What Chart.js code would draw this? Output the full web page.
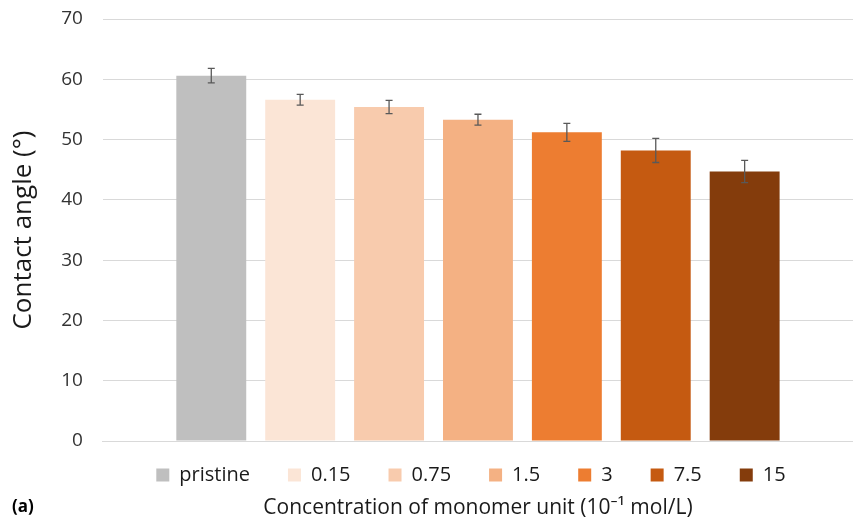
<!DOCTYPE html>
<html>
<head>
<meta charset="utf-8">
<script src="https://cdn.jsdelivr.net/npm/chart.js@4/dist/chart.umd.min.js"></script>
<style>
  html, body { margin: 0; padding: 0; background: #ffffff; }
  #wrap { width: 853px; height: 525px; position: relative; }
</style>
</head>
<body>
<div id="wrap"><canvas id="c" width="853" height="525"></canvas></div>
<script>
// ---- data ----
const categories = [''];
const seriesLabels = ['pristine', '0.15', '0.75', '1.5', '3', '7.5', '15'];
const contactAngles = [60.6, 56.6, 55.4, 53.3, 51.2, 48.2, 44.7];
const angleErrors = [1.2, 0.9, 1.1, 0.9, 1.5, 2.0, 1.85];
const yTickValues = [0, 10, 20, 30, 40, 50, 60, 70];
const xAxisTitle = 'Concentration of monomer unit (10\u207B\u00B9 mol/L)';
const yAxisTitle = 'Contact angle (\u00B0)';
const panelLabel = '(a)';

// ---- styles ----
const palette = ['#bfbfbf', '#fbe5d6', '#f8cbad', '#f4b183', '#ed7d31', '#c55a11', '#843c0c'];
const FONT = "'Open Sans', 'Noto Sans', sans-serif";

const datasets = seriesLabels.map((lab, i) => ({
  label: lab,
  data: [contactAngles[i]],
  errors: [angleErrors[i]],
  backgroundColor: palette[i],
  borderWidth: 0
}));

const errorBarPlugin = {
  id: 'errorBars',
  afterDatasetsDraw(chart) {
    const ctx = chart.ctx;
    const yScale = chart.scales.y;
    ctx.save();
    ctx.strokeStyle = '#595959';
    ctx.lineWidth = 1.3;
    chart.data.datasets.forEach((ds, i) => {
      const meta = chart.getDatasetMeta(i);
      meta.data.forEach((bar, j) => {
        const v = ds.data[j], e = ds.errors[j];
        const x = bar.x;
        const yTop = yScale.getPixelForValue(v + e);
        const yBot = yScale.getPixelForValue(v - e);
        const cap = 3.5;
        ctx.beginPath();
        ctx.moveTo(x, yTop); ctx.lineTo(x, yBot);
        ctx.moveTo(x - cap, yTop); ctx.lineTo(x + cap, yTop);
        ctx.moveTo(x - cap, yBot); ctx.lineTo(x + cap, yBot);
        ctx.stroke();
      });
    });
    ctx.restore();
  }
};

// Legend labels use a wide horizontal spacing; move the legend row up
// next to the axis and give the (clipped) legend box enough room.
const legendShiftPlugin = {
  id: 'legendShift',
  afterLayout(chart) {
    const lg = chart.legend;
    if (!lg) return;
    const dy = -14, dx = -7;
    lg.top += dy; lg.left += dx; lg.right += dx;
    lg.bottom = lg.top + 64;
    lg.height = 64;
  }
};

const panelLabelPlugin = {
  id: 'panelLabel',
  afterDraw(chart) {
    const ctx = chart.ctx;
    ctx.save();
    ctx.font = "bold 17px " + FONT;
    ctx.fillStyle = '#000000';
    ctx.textAlign = 'left';
    ctx.textBaseline = 'middle';
    ctx.fillText(panelLabel, 12, 507);
    ctx.restore();
  }
};

new Chart(document.getElementById('c'), {
  type: 'bar',
  data: { labels: categories, datasets },
  plugins: [errorBarPlugin, legendShiftPlugin, panelLabelPlugin],
  options: {
    responsive: false,
    animation: false,
    devicePixelRatio: 1,
    layout: { padding: { top: 19, left: 0, right: 0, bottom: 0 } },
    datasets: { bar: { categoryPercentage: 0.8296, barPercentage: 0.7865 } },
    scales: {
      x: {
        ticks: { display: false },
        grid: { display: false, drawTicks: false },
        border: { display: true, color: '#d9d9d9', width: 1 }
      },
      y: {
        min: 0,
        max: 70,
        afterBuildTicks(scale) { scale.ticks = yTickValues.map(v => ({ value: v })); },
        ticks: { font: { family: FONT, size: 19 }, color: '#333333', padding: 0 },
        grid: { color: '#d9d9d9', lineWidth: 1, drawTicks: true, tickLength: 20, tickColor: 'rgba(0,0,0,0)' },
        border: { display: false },
        title: {
          display: true,
          text: yAxisTitle,
          font: { family: FONT, size: 26 },
          color: '#1a1a1a',
          padding: { top: 8, bottom: 22 }
        }
      }
    },
    plugins: {
      legend: {
        position: 'bottom',
        fullSize: false,
        maxHeight: 40,
        labels: {
          font: { family: FONT, size: 20 },
          color: '#1a1a1a',
          boxWidth: 13,
          boxHeight: 13,
          padding: 38
        }
      },
      title: {
        display: true,
        position: 'bottom',
        fullSize: false,
        text: xAxisTitle,
        font: { family: FONT, size: 21, weight: 'normal' },
        color: '#1a1a1a',
        padding: { top: 14.4, bottom: 4.4 }
      },
      tooltip: { enabled: false }
    }
  }
});
</script>
</body>
</html>
